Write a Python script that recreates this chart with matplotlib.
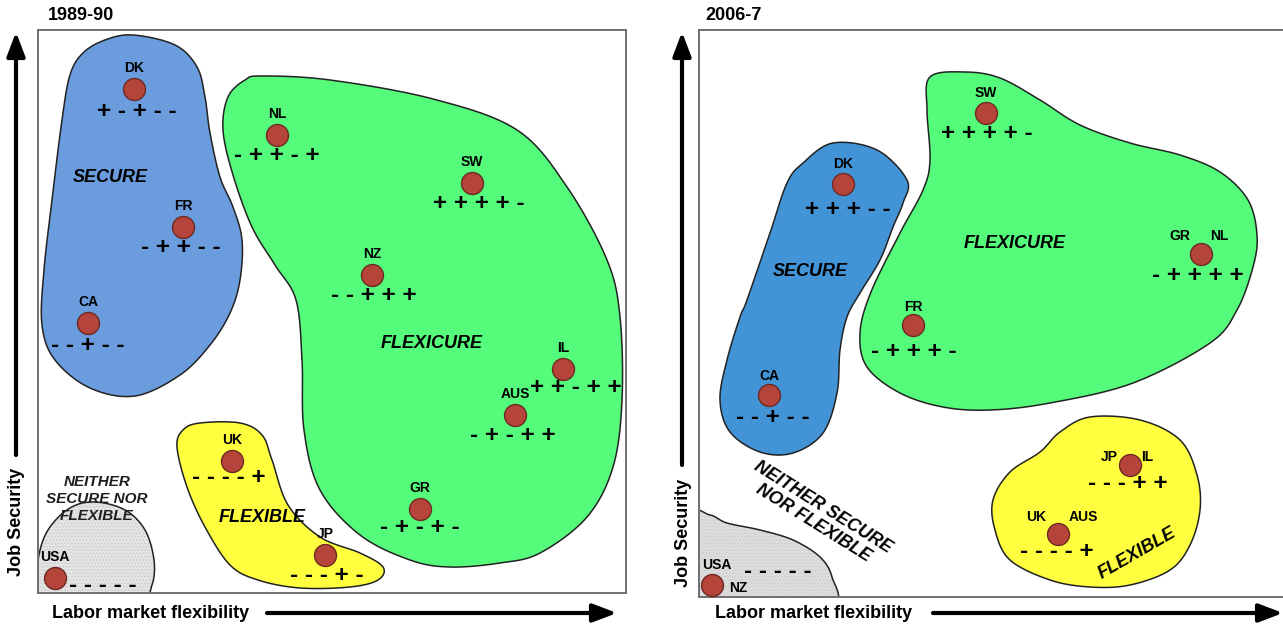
import matplotlib.pyplot as plt
import numpy as np
from matplotlib.patches import Polygon

plt.rcParams['font.family'] = ['Liberation Sans', 'DejaVu Sans']

# ---- 1989-90 panel: positions on (labor market flexibility, job security) ----
countries_8990 = ["DK", "NL", "SW", "FR", "NZ", "CA", "IL", "AUS", "UK", "GR", "JP", "USA"]
flex_8990 = [96, 239, 434, 145, 334, 50, 525, 477, 194, 382, 287, 17]
sec_8990 = [504, 458, 410, 366, 318, 270, 224, 178, 132, 84, 38, 15]
signs_8990 = ["+-+--", "-++-+", "++++-", "-++--", "--+++", "--+--",
              "++-++", "-+-++", "----+", "-+-+-", "---+-", "-----"]

# ---- 2006-7 panel ----
countries_0607 = [["SW"], ["DK"], ["GR", "NL"], ["FR"], ["CA"], ["JP", "IL"], ["UK", "AUS"], ["USA", "NZ"]]
flex_0607 = [287, 144, 502, 214, 70, 431, 359, 13]
sec_0607 = [484, 413, 343, 272, 202, 132, 63, 12]
signs_0607 = ["++++-", "+++--", "-++++", "-+++-", "--+--", "---++", "----+", "-----"]

# ---- regime outlines (flexibility, security) ----
secure_8990 = [(95, 558), (137, 548), (159, 526), (167, 496), (172, 460), (182, 416), (195, 386),
               (204, 353), (202, 313), (192, 280), (172, 248), (142, 218), (97, 197), (52, 205),
               (17, 233), (4, 268), (6, 323), (14, 393), (24, 473), (32, 518), (45, 540), (67, 553)]
flexicure_8990 = [(224, 517), (292, 513), (395, 494), (479, 463), (529, 406), (569, 333), (582, 276),
                  (584, 193), (575, 126), (549, 76), (502, 40), (462, 30), (412, 26), (372, 33),
                  (322, 58), (282, 103), (266, 163), (264, 233), (258, 293), (237, 328), (214, 366),
                  (195, 418), (185, 463), (190, 496), (207, 513)]
flexible_8990 = [(162, 170), (202, 170), (224, 158), (234, 133), (250, 88), (282, 56), (322, 40),
                 (345, 26), (340, 13), (312, 6), (262, 5), (220, 13), (192, 28), (167, 66),
                 (149, 106), (139, 146), (145, 163)]
neither_8990 = [(-2, -7), (0, 33), (10, 63), (32, 85), (57, 91), (87, 83), (107, 63), (116, 33),
                (114, 8), (102, -5), (42, -9)]

secure_0607 = [(134, 454), (178, 447), (208, 417), (204, 394), (194, 370), (181, 337), (161, 304),
               (148, 280), (141, 247), (138, 204), (124, 164), (94, 144), (61, 145), (31, 165),
               (21, 197), (28, 237), (41, 280), (48, 297), (71, 364), (88, 414), (104, 434)]
flexicure_0607 = [(231, 520), (266, 525), (301, 519), (341, 497), (381, 472), (431, 454), (481, 442),
                  (521, 425), (549, 397), (558, 362), (554, 330), (538, 287), (511, 254), (434, 214),
                  (351, 194), (291, 187), (244, 190), (201, 204), (168, 230), (161, 264), (172, 305),
                  (201, 364), (224, 407), (231, 437), (228, 487)]
flexible_0607 = [(391, 180), (441, 177), (481, 157), (498, 122), (501, 87), (491, 52), (471, 27),
                 (431, 12), (391, 10), (351, 17), (311, 37), (296, 67), (294, 97), (311, 125),
                 (341, 145), (361, 165)]
neither_0607 = [(-9, 80), (11, 82), (28, 74), (61, 67), (94, 57), (121, 40), (133, 20),
                (134, -8), (60, -12), (-9, -8)]

# label / sign placement, pixels (dx right, dy down)
label_off_8990 = [(0, -21)] * 12
sign_off_8990 = [(3, 22), (0, 20), (7, 21), (-2, 21), (2, 21), (0, 22), (13, 19), (-2, 20),
                 (-3, 17), (0, 18), (2, 20), (48, 8)]
label_off_0607 = [[(0, -20)], [(0, -20)], [(-21, -18), (18, -18)], [(0, -18)], [(0, -19)],
                  [(-21, -8), (17, -8)], [(-22, -17), (25, -17)], [(5, -20), (26, 3)]]
sign_off_0607 = [(1, 20), (5, 25), (-3, 22), (1, 26), (4, 23), (-2, 18), (-1, 18), (66, -14)]


def smooth(pts, n=30):
    p = np.array(pts, dtype=float)
    m = len(p)
    t = np.linspace(0, 1, n, endpoint=False)[:, None]
    out = []
    for i in range(m):
        p0, p1, p2, p3 = p[i - 1], p[i], p[(i + 1) % m], p[(i + 2) % m]
        out.append(0.5 * (2 * p1 + (-p0 + p2) * t + (2 * p0 - 5 * p1 + 4 * p2 - p3) * t ** 2
                          + (-p0 + 3 * p1 - 3 * p2 + p3) * t ** 3))
    return np.vstack(out)


def blob(ax, pts, color, hatch=None):
    xy = smooth(pts)
    if hatch:
        ax.add_patch(Polygon(xy, closed=True, facecolor=color, edgecolor='#cfcfcf',
                             hatch=hatch, lw=0, zorder=1))
        ax.add_patch(Polygon(xy, closed=True, fill=False, edgecolor='#222222', lw=1.1, zorder=1.1))
    else:
        ax.add_patch(Polygon(xy, closed=True, facecolor=color, edgecolor='#222222', lw=1.1, zorder=1))


def px(off):
    return (off[0] * 0.72, -off[1] * 0.72)


def draw_points(ax, names, xs, ys, signs, label_offs, sign_offs):
    ax.scatter(xs, ys, s=250, c='#b5443a', edgecolors='#6e2a22', linewidths=1, zorder=3)
    for i in range(len(xs)):
        nm = names[i] if isinstance(names[i], list) else [names[i]]
        offs = label_offs[i] if isinstance(label_offs[i], list) else [label_offs[i]]
        for n, o in zip(nm, offs):
            ax.annotate(n, (xs[i], ys[i]), xytext=px(o), textcoords='offset points',
                        ha='center', va='center', fontsize=10, fontweight='bold', zorder=4)
        ax.annotate(' '.join(signs[i]), (xs[i], ys[i]), xytext=px(sign_offs[i]),
                    textcoords='offset points', ha='center', va='center',
                    fontsize=17.5, fontweight='bold', zorder=4)


W, H = 1283, 626
fig = plt.figure(figsize=(W / 100, H / 100), dpi=100)

bg = fig.add_axes([0, 0, 1, 1])
bg.set_xlim(0, W)
bg.set_ylim(H, 0)
bg.axis('off')

ax1 = fig.add_axes([38 / W, (H - 593) / H, 588 / W, 563 / H])
ax1.set_xlim(0, 588)
ax1.set_ylim(0, 563)
ax2 = fig.add_axes([699 / W, (H - 597) / H, 590 / W, 567 / H])
ax2.set_xlim(0, 590)
ax2.set_ylim(0, 567)

for ax in (ax1, ax2):
    ax.set_xticks([])
    ax.set_yticks([])
    for s in ax.spines.values():
        s.set_color('#6f6f6f')
        s.set_linewidth(1.4)

blob(ax1, secure_8990, '#6a9cde')
blob(ax1, flexicure_8990, '#55fb7b')
blob(ax1, flexible_8990, '#ffff40')
blob(ax1, neither_8990, '#e6e6e6', hatch='.....')

blob(ax2, secure_0607, '#4394d7')
blob(ax2, flexicure_0607, '#55fb7b')
blob(ax2, flexible_0607, '#ffff40')
blob(ax2, neither_0607, '#dedede', hatch='.....')

draw_points(ax1, countries_8990, flex_8990, sec_8990, signs_8990, label_off_8990, sign_off_8990)
draw_points(ax2, countries_0607, flex_0607, sec_0607, signs_0607, label_off_0607, sign_off_0607)

reg = dict(fontsize=13, fontweight='bold', style='italic', ha='center', va='center', zorder=5)
ax1.text(72, 416, 'SECURE', **reg)
ax1.text(394, 250, 'FLEXICURE', **reg)
ax1.text(224, 75, 'FLEXIBLE', **reg)
ax1.text(59, 94, 'NEITHER\nSECURE NOR\nFLEXIBLE', fontsize=11, fontweight='bold', style='italic',
         ha='center', va='center', linespacing=1.25, color='#1e1e1e', zorder=1.05)

ax2.text(111, 326, 'SECURE', **reg)
ax2.text(316, 354, 'FLEXICURE', **reg)
ax2.text(438, 44, 'FLEXIBLE', rotation=30, **reg)
ax2.text(119, 82, 'NEITHER SECURE\nNOR FLEXIBLE', fontsize=13, fontweight='bold', style='italic',
         ha='center', va='center', rotation=-32, linespacing=1.15, zorder=5)

# titles, axis names and arrows
bg.text(48, 15, '1989-90', fontsize=13, fontweight='bold', ha='left', va='center')
bg.text(705, 15, '2006-7', fontsize=13, fontweight='bold', ha='left', va='center')

arrow = dict(arrowstyle='-|>,head_length=0.5,head_width=0.19', lw=3, color='black',
             mutation_scale=29, shrinkA=0, shrinkB=0)
for vx, vbot, hx0, hy, ytxt, xtxt in [(16, 455, 267, 613, 522, 52), (682, 465, 933, 613, 533, 715)]:
    bg.annotate('', xy=(vx, 32), xytext=(vx, vbot), arrowprops=arrow)
    bg.annotate('', xy=(hx0 + 350, hy), xytext=(hx0, hy), arrowprops=arrow)
    bg.text(vx + 1, ytxt, 'Job Security', rotation=90, fontsize=13, fontweight='bold',
            ha='center', va='center')
    bg.text(xtxt, hy + 1, 'Labor market flexibility', fontsize=13, fontweight='bold',
            ha='left', va='center')

fig.savefig('out.png', dpi=100)
